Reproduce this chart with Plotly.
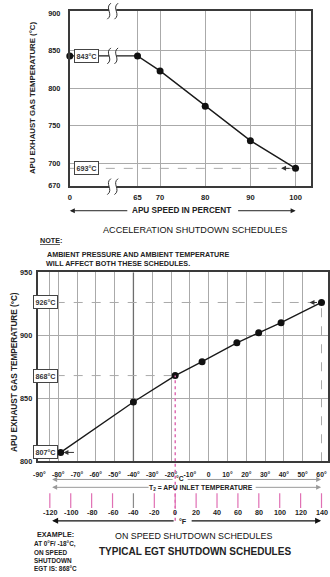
import plotly.graph_objects as go

W, H = 330, 577
FONT = "Liberation Sans, Arial, sans-serif"
INK = "#222222"
FRAME = "#3a3a3a"
GRID = "#aaaaaa"
DASH = "#aaaaaa"
PINK = "#e070b4"

# ---------------- data: acceleration shutdown schedule ----------------
speed_pct = [0, 65, 70, 80, 90, 100]
accel_egt = [843, 843, 823, 776, 730, 693]
speed_tick_vals = [0, 65, 70, 80, 90, 100]
accel_temp_ticks = [670, 700, 750, 800, 850, 900]
accel_grid_temps = [700, 750, 800, 850]

# ---------------- data: on speed shutdown schedule ----------------
inlet_temp_c = [-78.7, -40, -17.8, -3.5, 15, 26.6, 38.5, 60]
onspeed_egt = [807, 847, 868, 879, 894, 902, 910, 926]
c_tick_vals = [-90, -80, -70, -60, -50, -40, -30, -20, -10, 0, 10, 20, 30, 40, 50, 60]
c_tick_text = ["-90°", "-80°", "-70°", "-60°", "-50°", "-40°", "-30°", "-20°", "-10°", "0",
               "10°", "20°", "30°", "40°", "50°", "60°"]
f_tick_vals = [-120, -100, -80, -60, -40, -20, 0, 20, 40, 60, 80, 100, 120, 140]
onspeed_temp_ticks = [800, 850, 900, 950]
example_f = 0

BREAK_POS = 50      # axis position where 0 % is drawn (broken axis)
TOP_X_RANGE = [50, 103.5]
TOP_Y_RANGE = [670, 903]
BOT_X_RANGE = [-90.9, 63.2]
BOT_Y_RANGE = [800, 950]


def spd(v):
    return BREAK_POS if v < 65 else v


def f_to_c(f):
    return (f - 32) * 5.0 / 9.0


def px(x):
    return x / W


def py(y):
    return 1 - y / H


def fnt(size, bold=True, color=INK):
    return dict(family=FONT, size=size, color=color, weight="bold" if bold else "normal")


fig = go.Figure()

fig.add_trace(go.Scatter(
    x=[spd(v) for v in speed_pct], y=accel_egt, mode="lines+markers",
    line=dict(color="#1a1a1a", width=1.4), marker=dict(size=7, color="#111111"),
    cliponaxis=False, xaxis="x", yaxis="y", hoverinfo="skip", showlegend=False))

fig.add_trace(go.Scatter(
    x=inlet_temp_c, y=onspeed_egt, mode="lines+markers",
    line=dict(color="#1a1a1a", width=1.4), marker=dict(size=7, color="#111111"),
    cliponaxis=False, xaxis="x2", yaxis="y2", hoverinfo="skip", showlegend=False))

shapes = []


def hline(xref, yref, x0, x1, y, color, width=1, dash="solid", layer="below"):
    shapes.append(dict(type="line", xref=xref, yref=yref, x0=x0, x1=x1, y0=y, y1=y,
                       line=dict(color=color, width=width, dash=dash), layer=layer))


def vline(xref, yref, x, y0, y1, color, width=1, dash="solid", layer="below"):
    shapes.append(dict(type="line", xref=xref, yref=yref, x0=x, x1=x, y0=y0, y1=y1,
                       line=dict(color=color, width=width, dash=dash), layer=layer))


def minor_grid(vals):
    return dict(tickmode="array", tickvals=vals, showgrid=True, gridcolor=GRID, gridwidth=1,
                ticks="")


# gridlines (drawn by the axes as minor grid at chosen values)
top_x_grid = [spd(s) for s in speed_tick_vals if s >= 65]
bot_x_grid = [c for c in c_tick_vals[1:-1] if c != -40] + [f_to_c(f_tick_vals[0])]
bot_y_grid = onspeed_temp_ticks[1:-1]

# darker -40 line (same value in C and F)
vline("x2", "y2", -40, BOT_Y_RANGE[0], BOT_Y_RANGE[1], "#6e6e6e", 1.3)

# dashed reference lines
hline("x", "y", TOP_X_RANGE[0], spd(speed_pct[-1]), accel_egt[-1], DASH, 1, "dash")
hline("x2", "y2", BOT_X_RANGE[0], inlet_temp_c[-1], onspeed_egt[-1], DASH, 1, "dash")
hline("x2", "y2", BOT_X_RANGE[0], f_to_c(example_f), onspeed_egt[2], DASH, 1, "dash")
vline("x2", "y2", inlet_temp_c[-1], BOT_Y_RANGE[0], onspeed_egt[-1], DASH, 1, "dash")
# example (0 F) pink dotted line, in the plot and through the scales below
vline("x2", "y2", f_to_c(example_f), BOT_Y_RANGE[0], onspeed_egt[2], PINK, 1.5, "dot", "above")
vline("x2", "paper", f_to_c(example_f), py(525), py(464.5), PINK, 1.5, "dot", "above")

# deg F tick marks
for f in f_tick_vals:
    vline("x2", "paper", f_to_c(f), py(512), py(497), "#8a8a8a" if f == -40 else PINK, 1.2, "solid", "above")


# axis break marks
def break_mark(xref, xanchor, yref, yanchor, dy=0):
    shapes.append(dict(type="rect", xref=xref, yref=yref, xsizemode="pixel", ysizemode="pixel",
                       xanchor=xanchor, yanchor=yanchor, x0=-3.6, x1=3.6, y0=-2.5 + dy, y1=2.5 + dy,
                       fillcolor="white", line=dict(width=0), layer="above"))
    for cx in (-3.6, 3.6):
        path = "M %.1f,%.1f C %.1f,%.1f %.1f,%.1f %.1f,%.1f" % (
            cx + 1.8, 8 + dy, cx - 5, 3 + dy, cx + 5, -3 + dy, cx - 1.8, -8 + dy)
        shapes.append(dict(type="path", xref=xref, yref=yref, xsizemode="pixel", ysizemode="pixel",
                           xanchor=xanchor, yanchor=yanchor, path=path,
                           line=dict(color="#333333", width=1), layer="above"))


break_mark("paper", px(109.7), "paper", py(7.3))
break_mark("paper", px(109.7), "y", accel_egt[0])
break_mark("paper", px(109.7), "paper", py(184.5), -1)

annotations = []


def txt(text, x, y, size=7, bold=True, anchor="center", color=INK, angle=0):
    annotations.append(dict(text=text, x=px(x), y=py(y), xref="paper", yref="paper",
                            showarrow=False, xanchor=anchor, yanchor="middle",
                            font=fnt(size, bold, color), textangle=angle, borderpad=0))


def box(text, x, yref, yval, size=7.2):
    annotations.append(dict(text=text, x=px(x), y=yval, xref="paper", yref=yref,
                            showarrow=False, xanchor="center", yanchor="middle",
                            font=fnt(size, True, "#333333"), bgcolor="white",
                            bordercolor="#444444", borderwidth=1, borderpad=1.5))


def arrow(xhead, xtail, y, color=INK, width=1):
    annotations.append(dict(text="", x=px(xhead), y=py(y), xref="paper", yref="paper",
                            showarrow=True, ax=xtail - xhead, ay=0, axref="pixel", ayref="pixel",
                            arrowhead=2, arrowsize=1, arrowwidth=width, arrowcolor=color))


def data_arrow(xref, yref, xhead, y, dx, color="#333333"):
    annotations.append(dict(text="", x=xhead, y=y, xref=xref, yref=yref,
                            showarrow=True, ax=dx, ay=0, axref="pixel", ayref="pixel",
                            arrowhead=2, arrowsize=1, arrowwidth=1, arrowcolor=color))


# ---- top chart texts ----
txt("APU EXHAUST GAS TEMPERATURE (°C)", 28, 95, 7.8, angle=-90)
box("843°C", 83.5, "y", accel_egt[0])
box("693°C", 83, "y", accel_egt[-1])
data_arrow("x", "y", 96.8, accel_egt[-1], 10)
txt("APU SPEED IN PERCENT", 180, 210, 8.2)
arrow(66, 125, 210)
arrow(296, 237, 210)
txt("ACCELERATION SHUTDOWN SCHEDULES", 194, 230, 9.1, bold=False, color="#111111")
txt("<u>NOTE</u>:", 35, 240, 7.2, anchor="left")
txt("AMBIENT PRESSURE AND AMBIENT TEMPERATURE", 42, 254, 7.2, anchor="left")
txt("WILL AFFECT BOTH THESE SCHEDULES.", 41, 264, 7.2, anchor="left")

# ---- bottom chart texts ----
txt("APU EXHAUST GAS TEMPERATURE (°C)", 9, 374, 8.2, angle=-90)
box("926°C", 41.7, "y2", onspeed_egt[-1])
box("868°C", 41.7, "y2", onspeed_egt[2])
box("807°C", 41.5, "y2", onspeed_egt[0])
data_arrow("x2", "y2", 53.6, onspeed_egt[-1], 9)
data_arrow("x2", "y2", -77.2, onspeed_egt[0], 12)

txt("°C", 178, 482.5, 6.8)
arrow(48, 170, 483, "#9a9a9a", 1)
arrow(322, 187, 483, "#9a9a9a", 1)
txt("T<sub>2</sub> = APU INLET TEMPERATURE", 200, 491.5, 6.8)
arrow(48, 146, 491, "#9a9a9a", 1)
arrow(322, 255, 491, "#9a9a9a", 1)

for f in f_tick_vals:
    annotations.append(dict(text=str(f), x=f_to_c(f), y=py(517), xref="x2", yref="paper",
                            showarrow=False, xanchor="center", yanchor="middle", font=fnt(7.2)))
txt("°F", 181, 526, 7.2)
arrow(48, 171, 525, "#111111", 1.2)
arrow(322, 191, 525, "#111111", 1.2)

txt("EXAMPLE:", 32, 539, 7.2, anchor="left")
txt("AT 0°F/ -18°C,", 29, 549, 6.4, anchor="left")
txt("ON SPEED", 29, 557, 6.4, anchor="left")
txt("SHUTDOWN", 29, 565, 6.4, anchor="left")
txt("EGT IS: 868°C", 29, 573, 6.4, anchor="left")
txt("ON SPEED SHUTDOWN SCHEDULES", 192, 540.5, 8.9, bold=False, color="#111111")
txt("TYPICAL EGT SHUTDOWN SCHEDULES", 194, 556, 10)

axis_common = dict(showgrid=False, zeroline=False, showline=True, mirror=True,
                   linecolor=FRAME, linewidth=2, ticks="", fixedrange=True)

fig.update_layout(
    width=W, height=H, autosize=False,
    margin=dict(l=0, r=0, t=0, b=0),
    paper_bgcolor="white", plot_bgcolor="white",
    showlegend=False,
    xaxis=dict(domain=[px(66), px(312)], range=TOP_X_RANGE, anchor="y",
               tickvals=[spd(v) for v in speed_tick_vals], ticktext=[str(v) for v in speed_tick_vals],
               tickfont=fnt(7.6), ticklabelstandoff=3, minor=minor_grid(top_x_grid), **axis_common),
    yaxis=dict(domain=[py(184.5), py(7)], range=TOP_Y_RANGE, anchor="x",
               tickvals=accel_temp_ticks, ticktext=[str(v) for v in accel_temp_ticks],
               tickfont=fnt(7.3), ticklabelstandoff=6, minor=minor_grid(accel_grid_temps), **axis_common),
    xaxis2=dict(domain=[px(33.3), px(328.5)], range=BOT_X_RANGE, anchor="y2",
                tickvals=c_tick_vals, ticktext=c_tick_text,
                tickfont=fnt(6.8), ticklabelstandoff=6, minor=minor_grid(bot_x_grid), **axis_common),
    yaxis2=dict(domain=[py(464.5), py(272.5)], range=BOT_Y_RANGE, anchor="x2",
                tickvals=onspeed_temp_ticks, ticktext=[str(v) for v in onspeed_temp_ticks],
                tickfont=fnt(7.3), ticklabelstandoff=2, minor=minor_grid(bot_y_grid), **axis_common),
    shapes=shapes,
    annotations=annotations,
)

fig.write_html("out.html")
